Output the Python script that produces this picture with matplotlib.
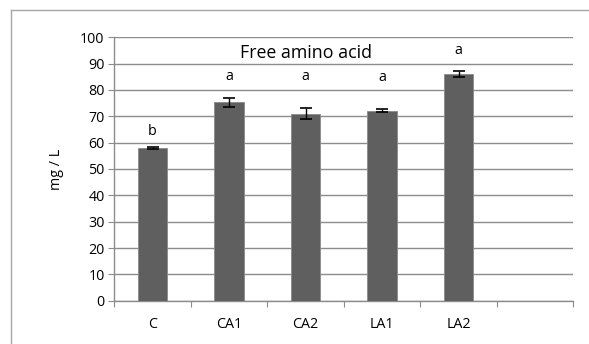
import matplotlib.pyplot as plt
from matplotlib.lines import Line2D

categories = ['C', 'CA1', 'CA2', 'LA1', 'LA2', '']
values = [57.9, 75.4, 71.0, 72.2, 86.0]
errors = [0.3, 1.7, 2.0, 0.4, 1.2]
letters = ['b', 'a', 'a', 'a', 'a']
letter_y = [64.2, 85.3, 85.3, 84.8, 94.9]

plt.rcParams['font.family'] = ['Open Sans', 'DejaVu Sans']

fig = plt.figure(figsize=(5.89, 3.44), dpi=100)
ax = fig.add_axes([114.3 / 589, 1 - 300.7 / 344, 459 / 589, 263.4 / 344])

grid_c = '#8c8c8c'
fs = 10.3
x = list(range(len(values)))
ax.bar(x, values, width=0.39, color='#5f5f5f', edgecolor='#8a8a8a',
       linewidth=0.6, zorder=3)
ax.errorbar(x, values, yerr=errors, fmt='none', ecolor='black',
            elinewidth=1.0, capsize=4, capthick=1.2, zorder=4)

for xi, t, ty in zip(x, letters, letter_y):
    ax.text(xi, ty, t, ha='center', va='center', fontsize=fs)
ax.text(2, 93.9, 'Free amino acid', ha='center', va='center', fontsize=12.8)

ax.set_xlim(-0.5, len(categories) - 0.5)
ax.set_ylim(0, 100)
ax.set_yticks(range(0, 101, 10))
ax.yaxis.grid(True, color=grid_c, linewidth=1.0, zorder=0)
ax.set_axisbelow(True)

ax.set_xticks([i - 0.5 for i in range(len(categories) + 1)])
ax.set_xticklabels([])
ax.set_xticks(range(len(categories)), minor=True)
ax.set_xticklabels(categories, minor=True)
ax.tick_params(axis='x', which='minor', length=0, pad=12, labelsize=fs)
ax.tick_params(axis='x', which='major', length=4, direction='out', color=grid_c)
ax.tick_params(axis='y', length=4, direction='out', color=grid_c, labelsize=fs, pad=3)

for s in ['top', 'right']:
    ax.spines[s].set_visible(False)
for s in ['left', 'bottom']:
    ax.spines[s].set_color(grid_c)
    ax.spines[s].set_linewidth(1.0)

ax.set_ylabel('mg / L', fontsize=fs, labelpad=12)

# outer chart border (left and top edges visible)
fig.add_artist(Line2D([11 / 589, 11 / 589], [0, 1 - 10 / 344], color='#a6a6a6',
                      linewidth=1.0, transform=fig.transFigure))
fig.add_artist(Line2D([11 / 589, 1], [1 - 10 / 344, 1 - 10 / 344], color='#a6a6a6',
                      linewidth=1.0, transform=fig.transFigure))

fig.savefig('out.png', dpi=100)
